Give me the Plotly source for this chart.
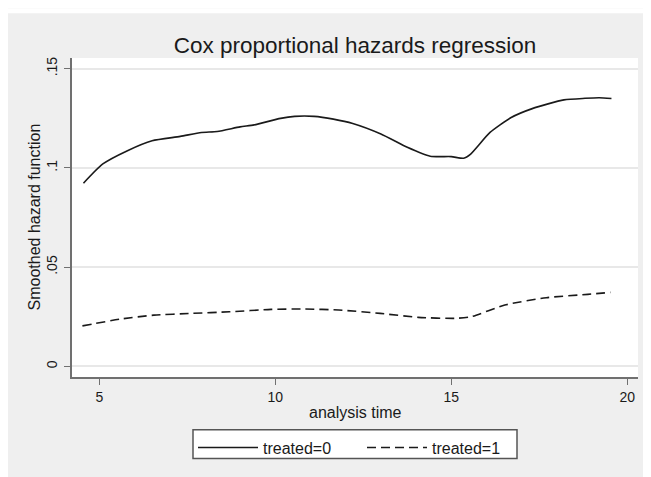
import plotly.graph_objects as go

# ---- data ----
time0 = [4.55, 5.1, 5.8, 6.5, 7.3, 7.9, 8.35, 9.0, 9.4, 10.15, 10.55, 11.1, 11.65,
         12.2, 13.0, 13.75, 14.4, 15.0, 15.35, 15.55, 16.1, 16.7, 17.3, 18.2, 18.8, 19.2, 19.55]
haz0 = [0.0923, 0.1020, 0.1087, 0.1137, 0.1159, 0.1179, 0.1184, 0.1207, 0.1217, 0.1250,
        0.1260, 0.1260, 0.1246, 0.1224, 0.1171, 0.1104, 0.1059, 0.1057, 0.1049, 0.1070,
        0.1179, 0.1254, 0.1299, 0.1343, 0.1351, 0.1354, 0.1350]

time1 = [4.52, 5.59, 6.55, 7.63, 8.70, 9.88, 10.84, 11.80, 12.98, 14.06, 15.13, 15.56,
         16.52, 17.70, 18.88, 19.52]
haz1 = [0.0204, 0.0238, 0.0258, 0.0267, 0.0275, 0.0287, 0.0289, 0.0284, 0.0267, 0.0247,
        0.0242, 0.0250, 0.0309, 0.0346, 0.0363, 0.0373]

series_names = ["treated=0", "treated=1"]
x_ticks = [5, 10, 15, 20]
y_ticks = [0, 0.05, 0.1, 0.15]
y_ticktext = ["0", ".05", ".1", ".15"]

title_text = "Cox proportional hazards regression"
x_title = "analysis time"
y_title = "Smoothed hazard function"

# ---- layout geometry (page has an 8px body margin, so figure px = page px - 8) ----
OFF = 8
W, H = 651 - OFF, 477 - OFF
PL, PR, PT, PB = 72 - OFF, 638 - OFF, 58 - OFF, 379 - OFF   # plot area in figure px
L, R, T, B = PL, W - PR, PT, H - PB
PW, PH = PR - PL, PB - PT

def px(xp):  # figure px -> paper x
    return (xp - L) / PW

def py(yp):  # figure px -> paper y
    return (PB - yp) / PH

FONT = "Arial, 'Liberation Sans', Helvetica, sans-serif"
TXT = "#1a1a1a"
BG = "#efefef"

fig = go.Figure()
fig.add_trace(go.Scatter(x=time0, y=haz0, mode="lines", name=series_names[0],
                         line=dict(color="#1a1a1a", width=1.6, shape="spline", smoothing=0.6)))
fig.add_trace(go.Scatter(x=time1, y=haz1, mode="lines", name=series_names[1],
                         line=dict(color="#1a1a1a", width=1.6, dash="9px,5px",
                                   shape="spline", smoothing=0.6)))

fig.update_layout(
    width=W, height=H,
    margin=dict(l=L, r=R, t=T, b=B),
    paper_bgcolor=BG, plot_bgcolor="white",
    font=dict(family=FONT, color=TXT, size=14),
    title=dict(text=title_text, x=0.5, xref="paper", xanchor="center",
               y=1 - (45 - OFF) / H, yanchor="middle", font=dict(size=22.5, color=TXT)),
    showlegend=True,
    legend=dict(orientation="h", x=px(193 - OFF), xanchor="left", y=py(433 - OFF),
                yanchor="top", bgcolor="rgba(0,0,0,0)", borderwidth=0,
                font=dict(size=16, color=TXT), itemwidth=60, entrywidthmode="pixels",
                entrywidth=94),
    xaxis=dict(range=[4.224, 20.304], tickvals=x_ticks, ticktext=[str(v) for v in x_ticks],
               showgrid=False, zeroline=False, showline=True, linecolor="#707070",
               linewidth=1.5, ticks="outside", ticklen=6, tickcolor="#707070",
               tickwidth=1.2, tickfont=dict(size=14, color=TXT)),
    yaxis=dict(range=[-0.00536, 0.15541], tickvals=y_ticks, ticktext=y_ticktext,
               showgrid=True, gridcolor="#e8e8e8", gridwidth=1.5, zeroline=False,
               showline=True, linecolor="#707070", linewidth=1.5, ticks="outside",
               ticklen=6, tickcolor="#707070", tickwidth=1.2, tickangle=-90,
               ticklabelstandoff=2, tickfont=dict(size=14, color=TXT)),
    shapes=[
        dict(type="rect", xref="paper", yref="paper", x0=px(0), x1=px(W), y0=py(13 - OFF),
             y1=py(0), fillcolor="white", line=dict(width=0), layer="below"),
        dict(type="rect", xref="paper", yref="paper", x0=0, x1=1, y0=0, y1=1,
             fillcolor="white", line=dict(width=0), layer="below"),
        dict(type="rect", xref="paper", yref="paper", x0=px(193 - OFF), x1=px(517 - OFF),
             y0=py(461 - OFF), y1=py(432 - OFF), fillcolor="white",
             line=dict(width=1.5, color="#555555"), layer="below"),
    ],
    annotations=[
        dict(text=x_title, xref="paper", yref="paper", x=0.5, y=py(415 - OFF),
             xanchor="center", yanchor="middle", showarrow=False,
             font=dict(size=16, color=TXT)),
        dict(text=y_title, xref="paper", yref="paper", x=px(34 - OFF), y=0.5,
             xanchor="center", yanchor="middle", textangle=-90, showarrow=False,
             font=dict(size=16, color=TXT)),
    ],
)

fig.write_html("out.html")
